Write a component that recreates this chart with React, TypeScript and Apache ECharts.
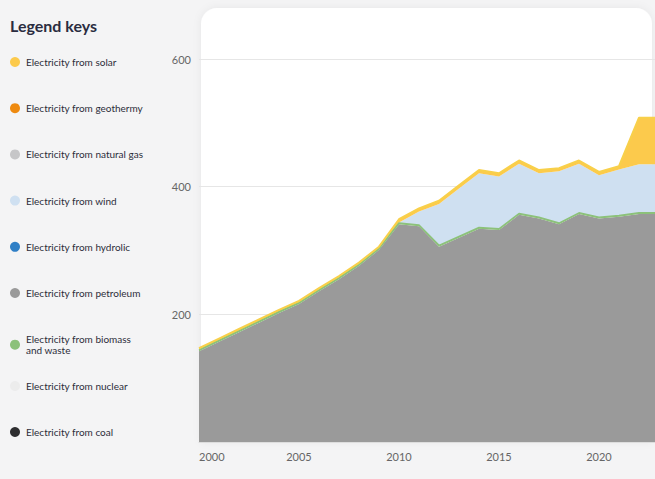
import React, { useEffect, useRef } from "react";
import * as echarts from "echarts";

const years = ["2000", "2001", "2002", "2003", "2004", "2005", "2006", "2007", "2008", "2009", "2010", "2011", "2012", "2013", "2014", "2015", "2016", "2017", "2018", "2019", "2020", "2021", "2022", "2023"];
const coal = [0, 0, 0, 0, 0, 0, 0, 0, 0, 0, 0, 0, 0, 0, 0, 0, 0, 0, 0, 0, 0, 0, 0, 0];
const nuclear = [0, 0, 0, 0, 0, 0, 0, 0, 0, 0, 0, 0, 0, 0, 0, 0, 0, 0, 0, 0, 0, 0, 0, 0];
const petroleum = [142, 157, 172, 187, 202, 216, 236, 255, 276, 301, 341, 338, 306, 320, 334, 332, 356, 350, 341, 357, 350, 353, 357, 357];
const biomass = [2, 2, 2, 2, 2, 2, 2, 2, 2, 2, 2, 2, 2, 2, 2, 2, 2, 2, 2, 2, 2, 2, 2, 2];
const hydrolic = [0, 0, 0, 0, 0, 0, 0, 0, 0, 0, 0, 0, 0, 0, 0, 0, 0, 0, 0, 0, 0, 0, 0, 0];
const wind = [0, 0, 0, 0, 0, 0, 0, 0, 0, 0, 1, 21, 65, 75, 85, 82, 78, 69, 81, 77, 66, 72, 76, 76];
const naturalGas = [0, 0, 0, 0, 0, 0, 0, 0, 0, 0, 0, 0, 0, 0, 0, 0, 0, 0, 0, 0, 0, 0, 0, 0];
const geothermy = [0, 0, 0, 0, 0, 0, 0, 0, 0, 0, 0, 0, 0, 0, 0, 0, 0, 0, 0, 0, 0, 0, 0, 0];
const solar = [3, 3, 3, 3, 3, 3, 3, 3, 3, 3, 5, 5, 5, 5, 5, 5, 5, 5, 5, 5, 5, 5, 73, 73];

const yTicks = [0, 200, 400, 600];

const FONT = "Lato, 'Noto Sans', sans-serif";

export default function App() {
  const ref = useRef<HTMLDivElement>(null);
  useEffect(() => {
    if (!ref.current) return;
    const chart = echarts.init(ref.current, undefined, { renderer: "svg" });
    const mk = (
      name: string,
      vals: number[],
      color: string,
      lineWidth: number,
      lineColor?: string
    ) => ({
      name,
      type: "line",
      stack: "total",
      symbol: "none",
      data: vals,
      itemStyle: { color },
      lineStyle: { width: lineWidth, color: lineColor || color },
      areaStyle: { color, opacity: 1 },
      emphasis: { disabled: true },
    });
    const series = [
      mk("Electricity from coal", coal, "#2e2e30", 0),
      mk("Electricity from nuclear", nuclear, "#ececec", 0),
      mk("Electricity from petroleum", petroleum, "#9a9a9a", 0),
      mk("Electricity from biomass and waste", biomass, "#8cc17a", 1.5),
      mk("Electricity from hydrolic", hydrolic, "#2f7fc6", 0),
      mk("Electricity from wind", wind, "#cfe0f1", 0),
      mk("Electricity from natural gas", naturalGas, "#c6c6c8", 0),
      mk("Electricity from geothermy", geothermy, "#ee8a10", 0),
      mk("Electricity from solar", solar, "#fcca4c", 2, "#f8d04a"),
    ];
    const legendText = {
      fontFamily: FONT,
      fontSize: 10,
      lineHeight: 11,
      color: "#2c2d3a",
    };
    chart.setOption({
      animation: false,
      backgroundColor: "#f4f4f5",
      textStyle: { fontFamily: FONT },
      title: {
        text: "Legend keys",
        left: 5,
        top: 12,
        textStyle: { fontFamily: FONT, fontSize: 16, fontWeight: "bold", color: "#2a2c40" },
      },
      graphic: {
        elements: [
          {
            type: "rect",
            z: -100,
            shape: { x: 201, y: 8, width: 451, height: 434, r: [16, 16, 0, 0] },
            style: { fill: "#ffffff", shadowBlur: 8, shadowColor: "rgba(0,0,0,0.06)" },
          },
        ],
      },
      legend: [
        {
          orient: "vertical",
          left: 5,
          top: 51.5,
          itemGap: 35.2,
          itemWidth: 12,
          itemHeight: 10,
          icon: "circle",
          selectedMode: false,
          textStyle: legendText,
          formatter: (n: string) => n.replace(" and waste", "\nand waste"),
          data: [
            "Electricity from solar",
            "Electricity from geothermy",
            "Electricity from natural gas",
            "Electricity from wind",
            "Electricity from hydrolic",
            "Electricity from petroleum",
            "Electricity from biomass and waste",
          ],
        },
        {
          orient: "vertical",
          left: 5,
          top: 375.5,
          itemGap: 35,
          itemWidth: 12,
          itemHeight: 10,
          icon: "circle",
          selectedMode: false,
          textStyle: legendText,
          data: ["Electricity from nuclear", "Electricity from coal"],
        },
      ],
      grid: { left: 199, right: 3, top: 59, bottom: 37 },
      xAxis: {
        type: "category",
        boundaryGap: false,
        data: years,
        splitLine: { show: false },
        axisTick: { show: false },
        axisLine: { lineStyle: { color: "#dddddd" } },
        axisLabel: {
          interval: 4,
          alignMinLabel: "left",
          margin: 9,
          fontSize: 11,
          color: "#666666",
          fontFamily: FONT,
        },
      },
      yAxis: {
        type: "value",
        min: yTicks[0],
        max: yTicks[yTicks.length - 1],
        interval: 200,
        axisLine: { show: false },
        axisTick: { show: false },
        splitLine: { lineStyle: { color: "#e6e6e6", width: 1 } },
        axisLabel: {
          showMinLabel: false,
          margin: 8,
          fontSize: 11,
          color: "#666666",
          fontFamily: FONT,
        },
      },
      series,
    });
    return () => chart.dispose();
  }, []);
  return (
    <div
      style={{ position: "fixed", left: 0, top: 0, width: 655, height: 479, overflow: "hidden" }}
    >
      <div ref={ref} style={{ width: 662, height: 479 }} />
    </div>
  );
}
